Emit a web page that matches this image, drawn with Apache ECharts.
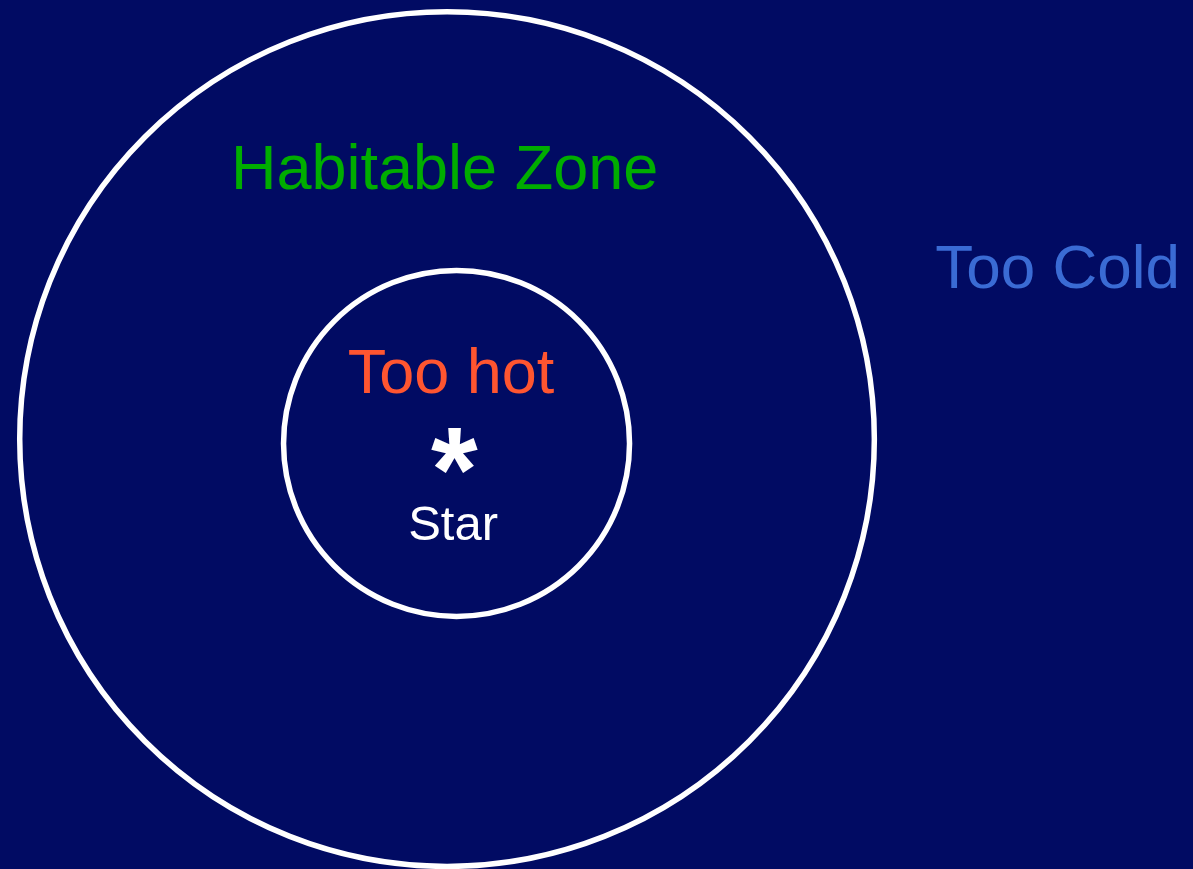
<!DOCTYPE html>
<html>
<head>
<meta charset="utf-8">
<style>
  html, body { margin: 0; padding: 0; background: #010b63; }
  #chart { width: 1193px; height: 869px; }
</style>
<script src="https://cdn.jsdelivr.net/npm/echarts@6/dist/echarts.min.js"></script>
</head>
<body>
<div id="chart"></div>
<script>
// Zone boundaries (star at origin, inner boundary radius = 1 unit)
const boundaryNames = ['Inner edge of habitable zone', 'Outer edge of habitable zone'];
const boundaryX = [0, -0.055];
const boundaryY = [0, 0.025];
const boundaryR = [1, 2.47];

// Zone labels
const labelText = ['Habitable Zone', 'Too hot', 'Too Cold', 'Star'];
const labelX = [-0.069, -0.032, 3.474, -0.02];
const labelY = [1.571, 0.389, 0.999, -0.478];

// Star marker
const starX = [-0.012];
const starY = [-0.20];

const FONT = '"Liberation Sans", Arial, Helvetica, sans-serif';
const labelStyle = {
  'Habitable Zone': { color: '#00ad00', size: 63 },
  'Too hot': { color: '#ff5530', size: 63 },
  'Too Cold': { color: '#3a6bd4', size: 62 },
  'Star': { color: '#ffffff', size: 49 }
};

const chart = echarts.init(document.getElementById('chart'));
chart.setOption({
  backgroundColor: '#010b63',
  animation: false,
  grid: { left: 0, right: 0, top: 0, bottom: 0 },
  xAxis: { type: 'value', min: -2.639, max: 4.257, show: false },
  yAxis: { type: 'value', min: -2.460, max: 2.563, show: false },
  series: [
    {
      type: 'custom',
      name: 'boundaries',
      data: boundaryX.map((x, i) => [x, boundaryY[i], boundaryR[i], boundaryNames[i]]),
      renderItem: function (params, api) {
        const c = api.coord([api.value(0), api.value(1)]);
        const r = api.size([api.value(2), 0])[0];
        return {
          type: 'circle',
          shape: { cx: c[0], cy: c[1], r: r },
          style: { fill: 'none', stroke: '#ffffff', lineWidth: 5.5 }
        };
      }
    },
    {
      type: 'custom',
      name: 'labels',
      data: labelX.map((x, i) => [x, labelY[i], labelText[i]]),
      renderItem: function (params, api) {
        const c = api.coord([api.value(0), api.value(1)]);
        const t = labelText[params.dataIndex];
        const s = labelStyle[t];
        return {
          type: 'text',
          x: c[0], y: c[1],
          style: {
            text: t, fill: s.color, fontSize: s.size, fontFamily: FONT,
            align: 'center', verticalAlign: 'middle'
          }
        };
      }
    },
    {
      type: 'custom',
      name: 'star',
      data: starX.map((x, i) => [x, starY[i]]),
      renderItem: function (params, api) {
        const c = api.coord([api.value(0), api.value(1)]);
        return {
          type: 'text',
          x: c[0], y: c[1],
          style: {
            text: '*', fill: '#ffffff', fontSize: 120, fontWeight: 'bold', fontFamily: FONT,
            align: 'center', verticalAlign: 'middle'
          }
        };
      }
    }
  ]
});
</script>
</body>
</html>
